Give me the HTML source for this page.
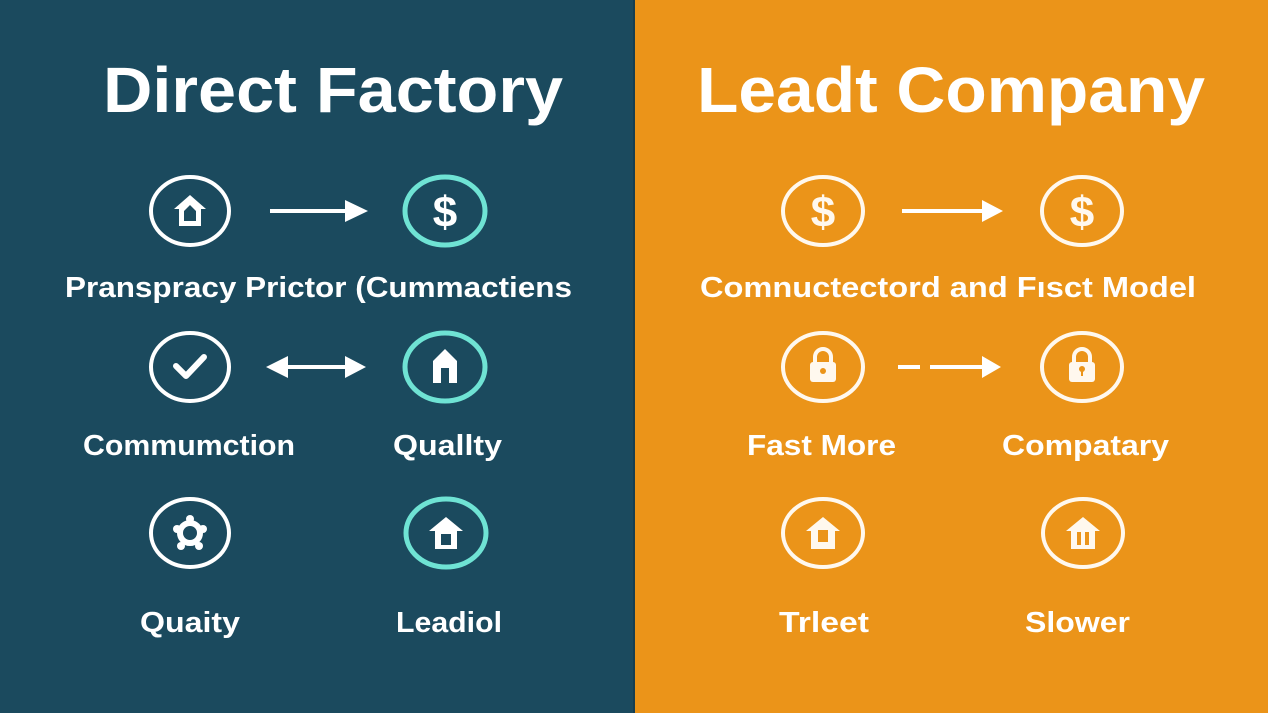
<!DOCTYPE html>
<html><head><style>html,body{margin:0;padding:0;}svg{display:block}</style></head>
<body>
<svg width="1268" height="713" viewBox="0 0 1268 713" xmlns="http://www.w3.org/2000/svg" font-family="Liberation Sans, sans-serif" font-weight="bold">
<rect x="0" y="0" width="634" height="713" fill="#1b4a5e"/>
<rect x="634" y="0" width="634" height="713" fill="#eb9419"/>
<line x1="634" y1="0" x2="634" y2="713" stroke="#163e50" stroke-width="2"/>
<g fill="#fff">
<text x="103" y="112" font-size="64" textLength="460" lengthAdjust="spacingAndGlyphs">Direct Factory</text>
<text x="697" y="112" font-size="64" textLength="508" lengthAdjust="spacingAndGlyphs">Leadt Company</text>
<text x="65" y="297" font-size="29" textLength="507" lengthAdjust="spacingAndGlyphs">Pranspracy Prictor (Cummactiens</text>
<text x="700" y="297" font-size="29" textLength="496" lengthAdjust="spacingAndGlyphs">Comnuctectord and Fısct Model</text>
<text x="83" y="455" font-size="29" textLength="212" lengthAdjust="spacingAndGlyphs">Commumction</text>
<text x="393" y="455" font-size="29" textLength="109" lengthAdjust="spacingAndGlyphs">Quallty</text>
<text x="747" y="455" font-size="29" textLength="149" lengthAdjust="spacingAndGlyphs">Fast More</text>
<text x="1002" y="455" font-size="29" textLength="167" lengthAdjust="spacingAndGlyphs">Compatary</text>
<text x="140" y="632" font-size="29" textLength="100" lengthAdjust="spacingAndGlyphs">Quaity</text>
<text x="396" y="632" font-size="29" textLength="106" lengthAdjust="spacingAndGlyphs">Leadiol</text>
<text x="779" y="632" font-size="29" textLength="90" lengthAdjust="spacingAndGlyphs">Trleet</text>
<text x="1025" y="632" font-size="29" textLength="105" lengthAdjust="spacingAndGlyphs">Slower</text>
</g>
<g fill="none" stroke-width="4">
<ellipse cx="190" cy="211" rx="39" ry="34" stroke="#fff"/>
<ellipse cx="445" cy="211" rx="40" ry="34" stroke="#6fe3d4" stroke-width="5"/>
<ellipse cx="190" cy="367" rx="39" ry="34" stroke="#fff"/>
<ellipse cx="445" cy="367" rx="40" ry="34" stroke="#6fe3d4" stroke-width="5"/>
<ellipse cx="190" cy="533" rx="39" ry="34" stroke="#fff"/>
<ellipse cx="446" cy="533" rx="40" ry="34" stroke="#6fe3d4" stroke-width="5"/>
<ellipse cx="823" cy="211" rx="40" ry="34" stroke="#fff8ee"/>
<ellipse cx="1082" cy="211" rx="40" ry="34" stroke="#fff8ee"/>
<ellipse cx="823" cy="367" rx="40" ry="34" stroke="#fff8ee"/>
<ellipse cx="1082" cy="367" rx="40" ry="34" stroke="#fff8ee"/>
<ellipse cx="823" cy="533" rx="40" ry="34" stroke="#fff8ee"/>
<ellipse cx="1083" cy="533" rx="40" ry="34" stroke="#fff8ee"/>
</g>
<!-- arrows -->
<g stroke="#fff" stroke-width="4" fill="#fff">
<line x1="270" y1="211" x2="350" y2="211"/>
<polygon points="345,200 368,211 345,222" stroke="none"/>
<line x1="285" y1="367" x2="348" y2="367"/>
<polygon points="288,356 266,367 288,378" stroke="none"/>
<polygon points="345,356 366,367 345,378" stroke="none"/>
<line x1="902" y1="211" x2="985" y2="211"/>
<polygon points="982,200 1003,211 982,222" stroke="none"/>
<line x1="898" y1="367" x2="920" y2="367"/>
<line x1="930" y1="367" x2="985" y2="367"/>
<polygon points="982,356 1001,367 982,378" stroke="none"/>
</g>
<!-- icons -->
<g fill="#fff">
<path d="M190 195 L206 209 L201 209 L201 226 L179 226 L179 209 L174 209 Z M184 211 L184 221 L196 221 L196 211 L190 205 Z" fill-rule="evenodd"/>
<text x="445" y="227" font-size="44" text-anchor="middle">$</text>
<text x="823" y="227" font-size="44" text-anchor="middle" fill="#fff8ee">$</text>
<text x="1082" y="227" font-size="44" text-anchor="middle" fill="#fff8ee">$</text>
<path d="M176 366 L186 376 L204 357" fill="none" stroke="#fff" stroke-width="6" stroke-linecap="round" stroke-linejoin="round"/>
<path d="M445 349 L457 361 L457 383 L449 383 L449 368 L441 368 L441 383 L433 383 L433 361 Z"/>
<circle cx="190" cy="533" r="10" fill="none" stroke="#fff" stroke-width="6"/>
<circle cx="190" cy="519" r="4"/><circle cx="177" cy="529" r="4"/><circle cx="203" cy="529" r="4"/><circle cx="181" cy="546" r="4"/><circle cx="199" cy="546" r="4"/>
<path d="M446 517 L463 531 L457 531 L457 549 L435 549 L435 531 L429 531 Z M441 534 L441 545 L451 545 L451 534 Z" fill-rule="evenodd"/>
<g fill="#fff8ee">
<path d="M815 363 L815 357 A8 8 0 0 1 831 357 L831 363" fill="none" stroke="#fff8ee" stroke-width="4"/>
<rect x="810" y="362" width="26" height="20" rx="3"/>
<circle cx="823" cy="371" r="3" fill="#eb9419"/>
<path d="M1074 363 L1074 357 A8 8 0 0 1 1090 357 L1090 363" fill="none" stroke="#fff8ee" stroke-width="4"/>
<rect x="1069" y="362" width="26" height="20" rx="3"/>
<circle cx="1082" cy="369" r="3" fill="#eb9419"/><rect x="1081" y="369" width="2" height="7" fill="#eb9419"/>
<path d="M823 517 L840 531 L835 531 L835 549 L811 549 L811 531 L806 531 Z M818 530 L818 542 L828 542 L828 530 Z" fill-rule="evenodd"/>
<path d="M1083 517 L1100 531 L1095 531 L1095 549 L1071 549 L1071 531 L1066 531 Z M1077 532 L1077 545 L1081 545 L1081 532 Z M1085 532 L1085 545 L1089 545 L1089 532 Z" fill-rule="evenodd"/>
</g>
</g>
</svg>
</body></html>
